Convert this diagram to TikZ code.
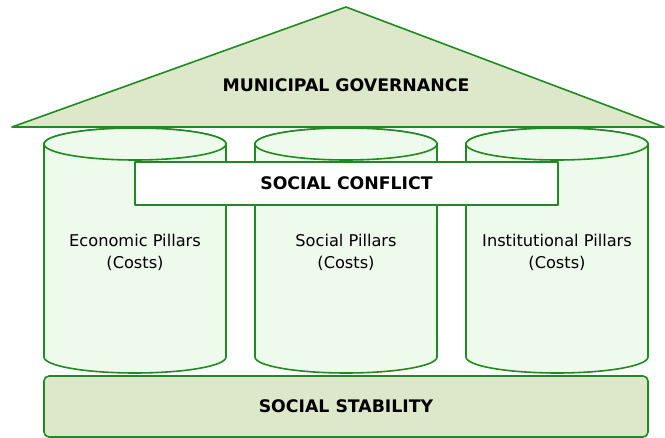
\documentclass[tikz,border=0pt]{standalone}
\usepackage{fontspec}
\setmainfont{DejaVu Sans}
\usetikzlibrary{positioning}

\definecolor{roofgreen}{HTML}{DDE8CB}
\definecolor{pillargreen}{HTML}{EEFBEC}
\definecolor{linegreen}{HTML}{1F8A1F}

\begin{document}
\begin{tikzpicture}[x=1pt, y=-1pt,
		outline/.style = {draw=linegreen, line width=1.6pt, line join=round},
		headtext/.style = {font=\fontsize{17.3}{19}\selectfont\bfseries},
		pillartext/.style = {font=\fontsize{16.2}{22}\selectfont, align=center}]
		\useasboundingbox (0,0) rectangle (665,438);
		\def\rx{91};
		\def\ry{16};
		\def\ytop{144};
		\def\ybot{357};
		
		% roof
		\draw [outline, fill=roofgreen] (12,127) -- (346,7) -- (664,127) -- cycle;
		\node [headtext] (governance) at (346,85) {MUNICIPAL GOVERNANCE};
		
		% the three pillars
		\foreach \x/\name/\txt in {135/economic/Economic, 346/social/Social, 557/institutional/Institutional} {
			\draw [outline, fill=pillargreen] (\x-\rx,\ytop) -- (\x-\rx,\ybot)
				arc [start angle=180, end angle=0, x radius=\rx, y radius=\ry]
				-- (\x+\rx,\ytop) arc [start angle=0, end angle=-180, x radius=\rx, y radius=\ry];
			\draw [outline, fill=pillargreen] (\x,\ytop) ellipse [x radius=\rx, y radius=\ry];
			\node [pillartext] (\name) at (\x,252) {\txt\ Pillars\\(Costs)};
		}
		
		% band across the pillars
		\node [outline, fill=white, headtext, minimum width=423pt, minimum height=43pt, inner sep=0pt] (conflict) at (346.5,183.5) {SOCIAL CONFLICT};
		
		% base
		\node [outline, fill=roofgreen, headtext, rounded corners=5pt, minimum width=604pt, minimum height=61pt, inner sep=0pt] (stability) at (346,406.5) {SOCIAL STABILITY};
	\end{tikzpicture}
\end{document}
